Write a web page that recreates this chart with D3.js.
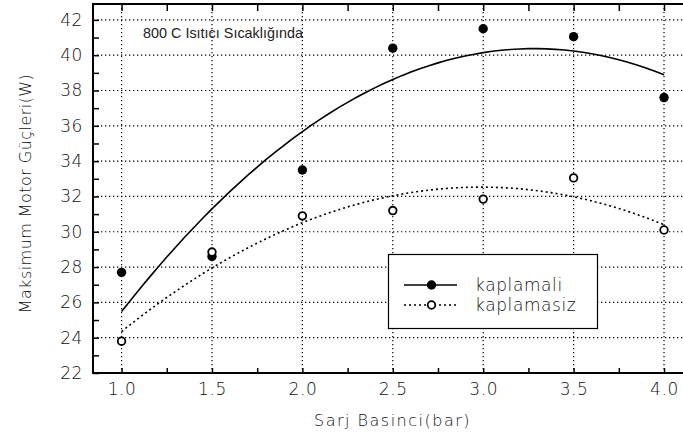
<!DOCTYPE html>
<html><head><meta charset="utf-8">
<script src="https://cdn.jsdelivr.net/npm/d3@7"></script>
<style>body{margin:0;background:#fff}svg{display:block}</style>
</head><body>
<svg id="c" width="683" height="436"></svg>
<script>
// ---- data ----
const pressure = [1.0, 1.5, 2.0, 2.5, 3.0, 3.5, 4.0];
const kaplamali = [27.7, 28.6, 33.5, 40.4, 41.5, 41.05, 37.6];
const kaplamasiz = [23.8, 28.85, 30.9, 31.2, 31.85, 33.05, 30.1];
const seriesNames = ["kaplamali", "kaplamasiz"];
const xMajorTicks = [1.0, 1.5, 2.0, 2.5, 3.0, 3.5, 4.0];
const xMinorTicks = [1.0, 1.25, 1.5, 1.75, 2.0, 2.25, 2.5, 2.75, 3.0, 3.25, 3.5, 3.75, 4.0];
const yLabelTicks = [22, 24, 26, 28, 30, 32, 34, 36, 38, 40, 42];
const yAllTicks = [22, 23, 24, 25, 26, 27, 28, 29, 30, 31, 32, 33, 34, 35, 36, 37, 38, 39, 40, 41, 42];
const xTitle = "Sarj Basinci(bar)";
const yTitle = "Maksimum Motor Güçleri(W)";
const annotation = "800 C Isıtıcı Sıcaklığında";

// ---- layout ----
const svg = d3.select("#c");
const L = 93, R = 683, T = 4, B = 373;
const x = d3.scaleLinear().domain([0.842, 4.105]).range([L, R]);
const y = d3.scaleLinear().domain([22, 42.9]).range([B, T]);
const tickFont = "DejaVu Sans, sans-serif";
const textWeight = 200;
const textColor = "#111";

// quadratic least-squares fit
function quadFit(xs, ys) {
  let S = [0,0,0,0,0], Sy = [0,0,0];
  xs.forEach((xv, i) => {
    for (let k = 0; k < 5; k++) S[k] += Math.pow(xv, k);
    for (let k = 0; k < 3; k++) Sy[k] += ys[i] * Math.pow(xv, k);
  });
  const A = [[S[0],S[1],S[2],Sy[0]],[S[1],S[2],S[3],Sy[1]],[S[2],S[3],S[4],Sy[2]]];
  for (let i = 0; i < 3; i++) {
    for (let j = i + 1; j < 3; j++) {
      const f = A[j][i] / A[i][i];
      for (let k = i; k < 4; k++) A[j][k] -= f * A[i][k];
    }
  }
  const c = [0,0,0];
  for (let i = 2; i >= 0; i--) {
    let s = A[i][3];
    for (let k = i + 1; k < 3; k++) s -= A[i][k] * c[k];
    c[i] = s / A[i][i];
  }
  return xv => c[0] + c[1]*xv + c[2]*xv*xv;
}

// grid
const grid = svg.append("g").attr("stroke", "#000").attr("stroke-width", 1.2).attr("stroke-dasharray", "1.3,2.7");
grid.selectAll(".gx").data(xMajorTicks).join("line")
  .attr("x1", d => x(d)).attr("x2", d => x(d)).attr("y1", T).attr("y2", B);
grid.selectAll(".gy").data(yLabelTicks.filter(d => d > 22)).join("line")
  .attr("x1", L).attr("x2", R).attr("y1", d => y(d)).attr("y2", d => y(d));

// axes
const ax = svg.append("g").attr("transform", `translate(0,${B})`)
  .call(d3.axisBottom(x).tickValues(xMinorTicks).tickSize(-5).tickPadding(10)
    .tickFormat(d => (Math.abs(d*2 - Math.round(d*2)) < 1e-6) ? d3.format(".1f")(d) : ""));
const ay = svg.append("g").attr("transform", `translate(${L},0)`)
  .call(d3.axisLeft(y).tickValues(yAllTicks).tickSize(-6).tickPadding(10)
    .tickFormat(d => d % 2 === 0 ? d : ""));
const at = svg.append("g").attr("transform", `translate(0,${T})`)
  .call(d3.axisTop(x).tickValues(xMinorTicks).tickSize(-7).tickFormat(""));
[ax, ay, at].forEach(g => {
  g.select(".domain").remove();
  g.selectAll(".tick line").attr("stroke", "#000").attr("stroke-width", 1.5);
  g.selectAll("text").attr("font-family", tickFont).attr("font-weight", textWeight)
    .attr("font-size", 17).attr("letter-spacing", 0.6).attr("fill", textColor);
});

// frame
svg.append("rect").attr("x", L).attr("y", T).attr("width", R - L + 10).attr("height", B - T)
  .attr("fill", "none").attr("stroke", "#000").attr("stroke-width", 2);

// fitted curves
const xs = d3.range(0, 61).map(i => 1 + i * 3 / 60);
const f1 = quadFit(pressure, kaplamali), f2 = quadFit(pressure, kaplamasiz);
const line = d3.line().x(d => x(d[0])).y(d => y(d[1])).curve(d3.curveLinear);
svg.append("path").attr("d", line(xs.map(v => [v, f1(v)])))
  .attr("fill", "none").attr("stroke", "#000").attr("stroke-width", 1.6);
svg.append("path").attr("d", line(xs.map(v => [v, f2(v)])))
  .attr("fill", "none").attr("stroke", "#000").attr("stroke-width", 1.6).attr("stroke-dasharray", "2,3");

// points
svg.selectAll(".p1").data(pressure).join("circle")
  .attr("cx", d => x(d)).attr("cy", (d, i) => y(kaplamali[i])).attr("r", 4.7).attr("fill", "#000");
svg.selectAll(".p2").data(pressure).join("circle")
  .attr("cx", d => x(d)).attr("cy", (d, i) => y(kaplamasiz[i])).attr("r", 3.8)
  .attr("fill", "#fff").attr("stroke", "#000").attr("stroke-width", 1.8);

// annotation
svg.append("text").attr("x", 143).attr("y", 38.3).text(annotation)
  .attr("font-family", "Liberation Sans, Arial, sans-serif").attr("font-size", 14.4).attr("fill", "#222");

// axis titles
svg.append("text").attr("x", 392.5).attr("y", 425.5).attr("text-anchor", "middle").text(xTitle)
  .attr("font-family", tickFont).attr("font-weight", textWeight).attr("font-size", 16)
  .attr("letter-spacing", 1.5).attr("fill", textColor);
svg.append("text").attr("transform", "translate(31,193.5) rotate(-90)").attr("text-anchor", "middle").text(yTitle)
  .attr("font-family", tickFont).attr("font-weight", textWeight).attr("font-size", 16)
  .attr("letter-spacing", 0.45).attr("fill", textColor);

// legend
const lg = svg.append("g");
lg.append("rect").attr("x", 388.5).attr("y", 254.5).attr("width", 209).attr("height", 74)
  .attr("fill", "#fff").attr("stroke", "#000").attr("stroke-width", 1.2);
const legY = [285, 305];
seriesNames.forEach((name, i) => {
  lg.append("line").attr("x1", 404).attr("x2", 457).attr("y1", legY[i]).attr("y2", legY[i])
    .attr("stroke", "#000").attr("stroke-width", 1.6).attr("stroke-dasharray", i ? "2,3" : null);
  if (i === 0) lg.append("circle").attr("cx", 431.5).attr("cy", legY[i]).attr("r", 4.7).attr("fill", "#000");
  else lg.append("circle").attr("cx", 431.5).attr("cy", legY[i]).attr("r", 3.8).attr("fill", "#fff")
    .attr("stroke", "#000").attr("stroke-width", 1.8);
  lg.append("text").attr("x", 475).attr("y", legY[i]).attr("dy", "0.35em").text(name)
    .attr("font-family", tickFont).attr("font-weight", textWeight).attr("font-size", 17)
    .attr("letter-spacing", 0.6).attr("fill", textColor);
});
</script>
</body></html>
